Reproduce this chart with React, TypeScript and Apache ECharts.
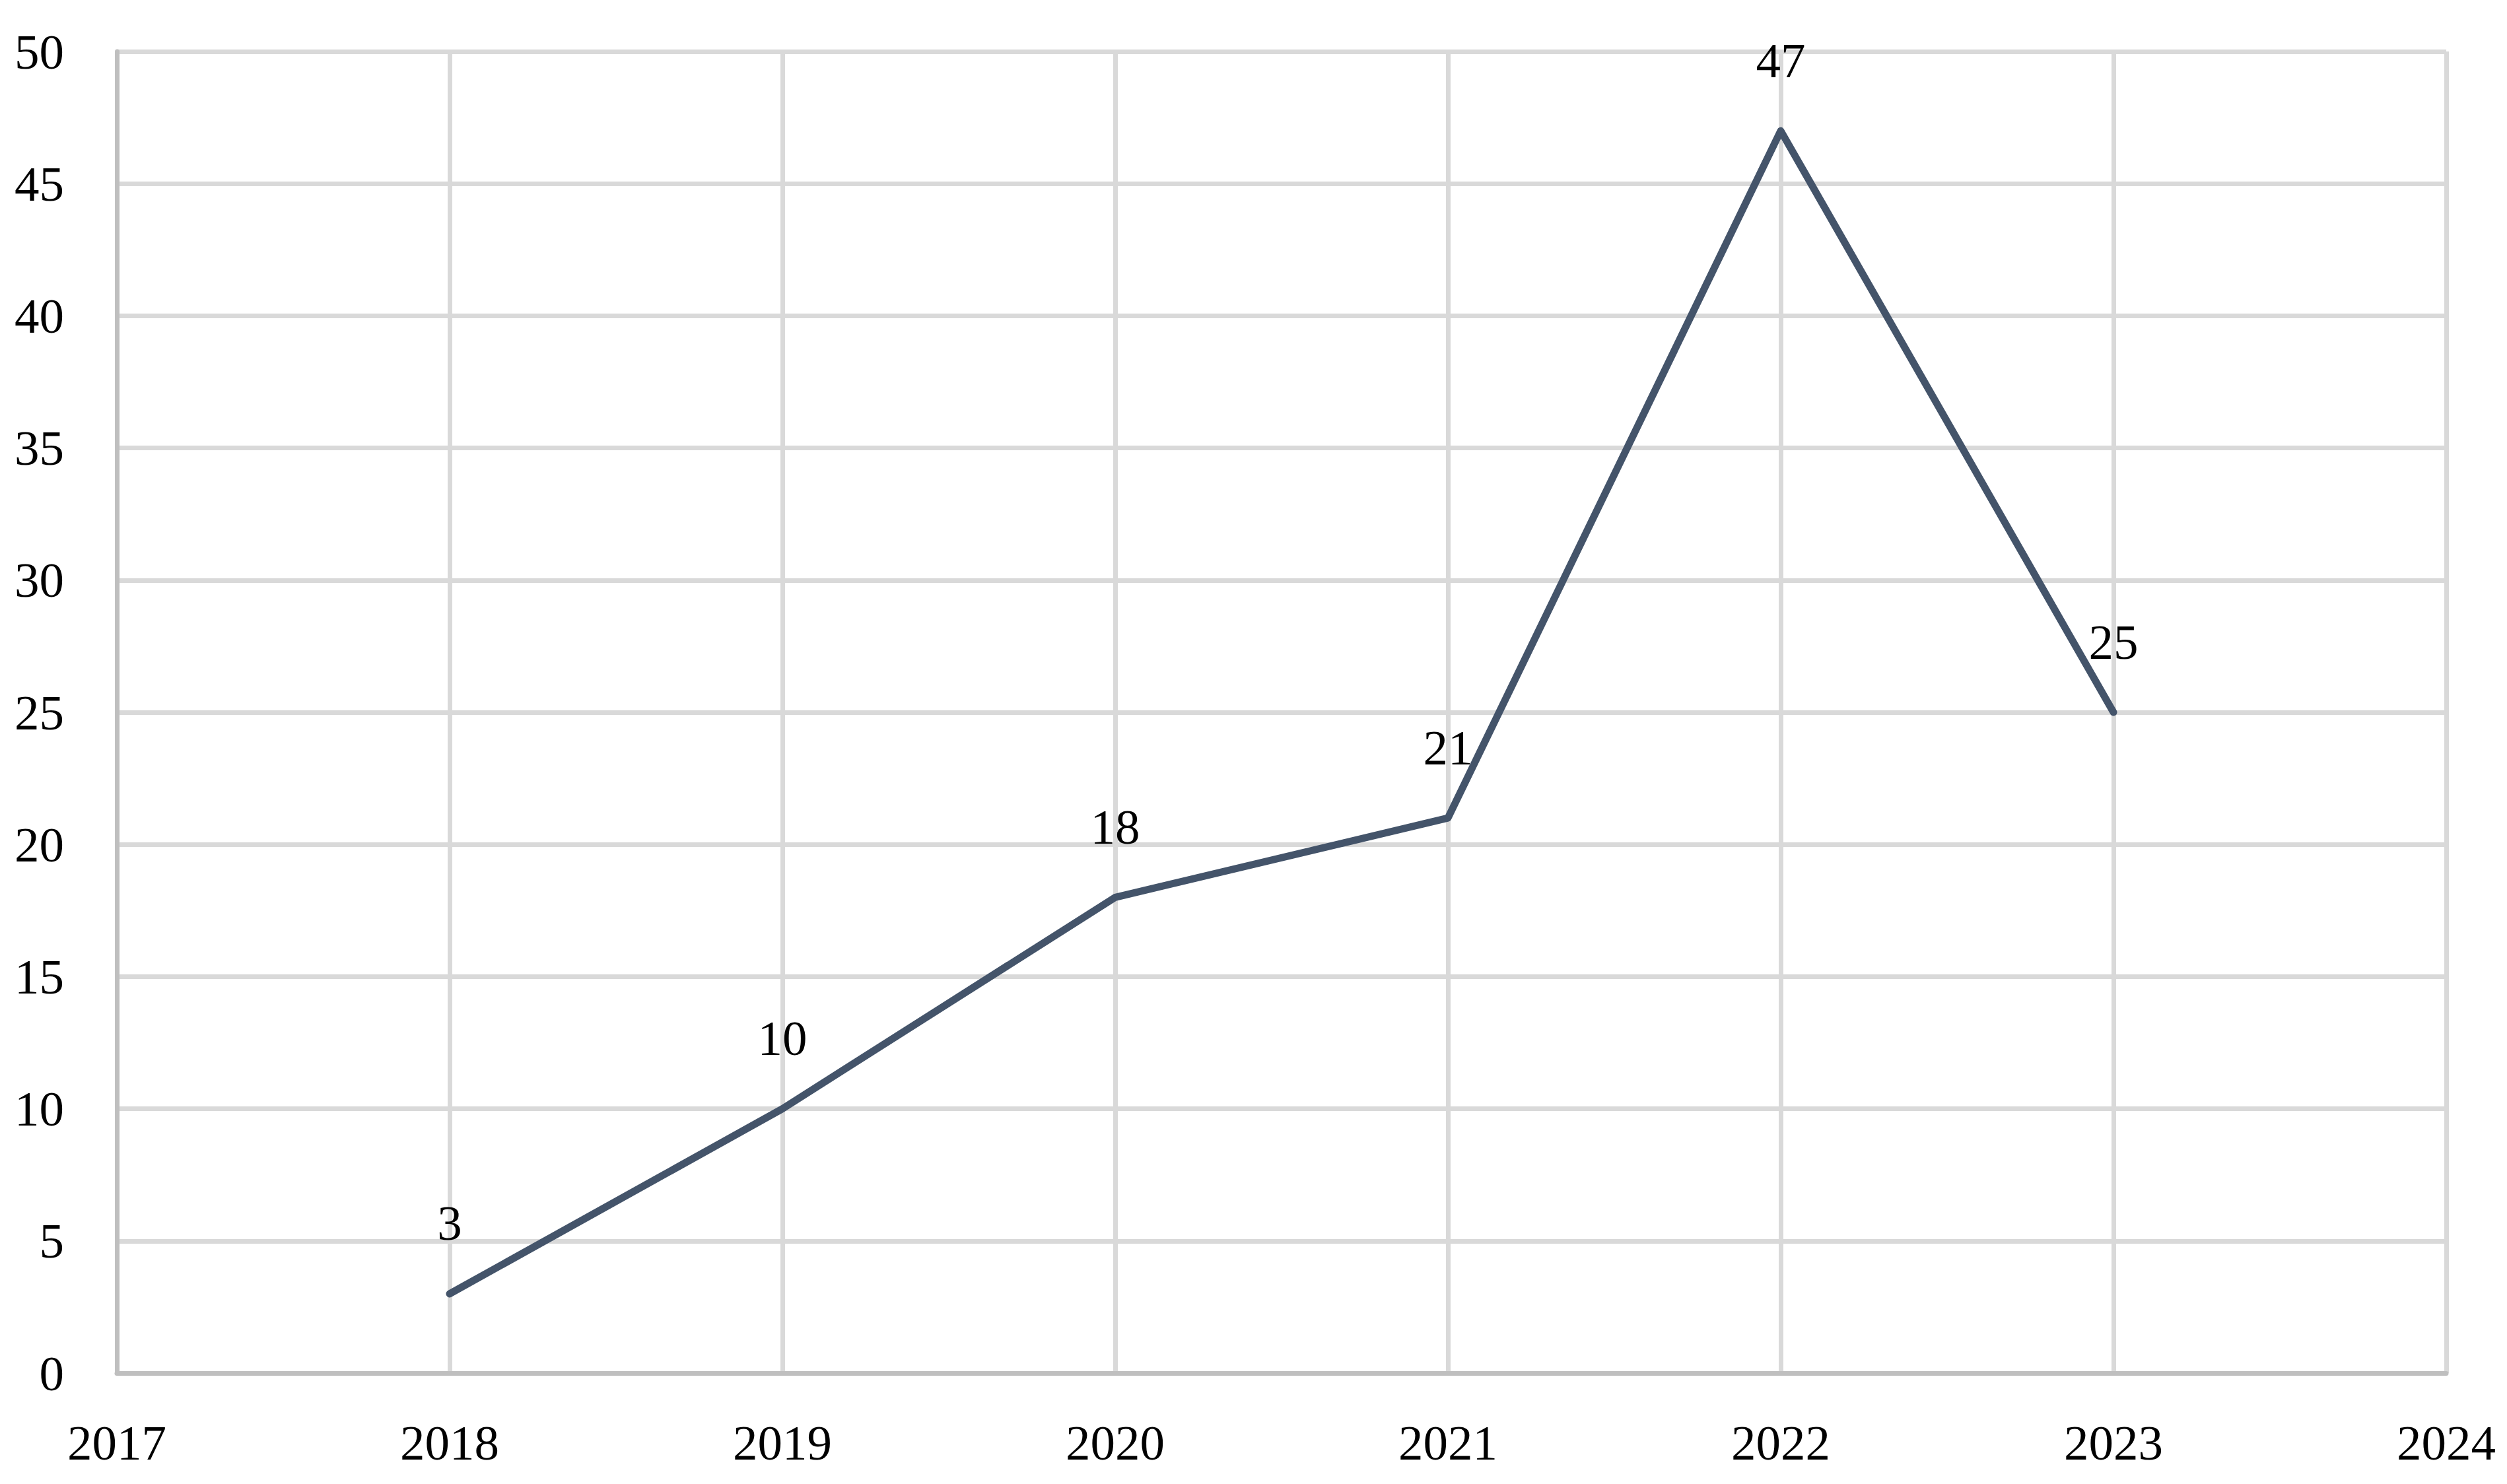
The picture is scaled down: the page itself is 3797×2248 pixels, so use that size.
import React, { useEffect, useRef } from "react";
import * as echarts from "echarts";

const years = [2018, 2019, 2020, 2021, 2022, 2023];
const values = [3, 10, 18, 21, 47, 25];
const xMin = 2017;
const xMax = 2024;
const yMin = 0;
const yMax = 50;
const yInterval = 5;

const FONT = "'Liberation Serif', 'Times New Roman', serif";

export default function App() {
  const ref = useRef<HTMLDivElement>(null);
  useEffect(() => {
    if (!ref.current) return;
    const chart = echarts.init(ref.current, undefined, { renderer: "svg" });
    chart.setOption({
      animation: false,
      backgroundColor: "#ffffff",
      grid: { left: 177, right: 92, top: 78, bottom: 168, containLabel: false },
      xAxis: {
        type: "value",
        min: xMin,
        max: xMax,
        interval: 1,
        axisLine: { show: true, lineStyle: { color: "#bfbfbf", width: 7 } },
        axisTick: { show: false },
        splitLine: { show: true, lineStyle: { color: "#d9d9d9", width: 7 } },
        axisLabel: {
          formatter: (v: number) => String(v),
          fontFamily: FONT,
          fontSize: 75,
          color: "#000000",
          margin: 68,
        },
      },
      yAxis: {
        type: "value",
        min: yMin,
        max: yMax,
        interval: yInterval,
        axisLine: { show: true, lineStyle: { color: "#bfbfbf", width: 7 } },
        axisTick: { show: false },
        splitLine: { show: true, lineStyle: { color: "#d9d9d9", width: 7 } },
        axisLabel: {
          fontFamily: FONT,
          fontSize: 75,
          color: "#000000",
          margin: 80,
        },
      },
      series: [
        {
          type: "line",
          data: years.map((y, i) => [y, values[i]]),
          showSymbol: true,
          symbol: "circle",
          symbolSize: 1,
          itemStyle: { color: "#44546a" },
          lineStyle: { color: "#44546a", width: 11, cap: "round", join: "round" },
          label: {
            show: true,
            position: "top",
            distance: 69,
            fontFamily: FONT,
            fontSize: 75,
            color: "#000000",
            formatter: (p: any) => String(p.value[1]),
          },
        },
      ],
    });
    return () => chart.dispose();
  }, []);
  return (
    <div
      ref={ref}
      style={{ position: "fixed", left: 0, top: 0, width: 3797, height: 2248, background: "#fff" }}
    />
  );
}
